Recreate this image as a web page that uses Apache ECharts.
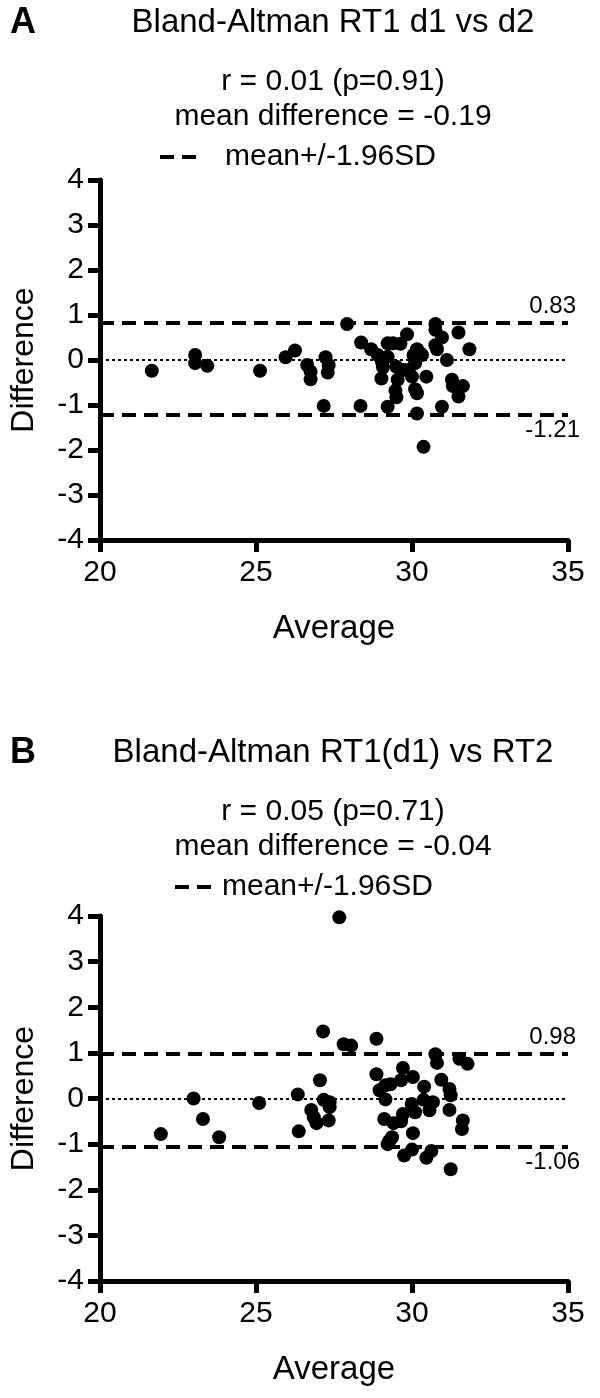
<!DOCTYPE html>
<html><head><meta charset="utf-8">
<script src="https://cdn.jsdelivr.net/npm/echarts@6/dist/echarts.min.js"></script>
<style>html,body{margin:0;padding:0;background:#fff}#c{width:600px;height:1398px}</style>
</head><body><div id="c"></div>
<script>
const FONT = '"Liberation Sans", Arial, sans-serif';

// axis ranges / ticks
const xMin = 20, xMax = 35, xStep = 5;
const yMin = -4, yMax = 4, yStep = 1;

// Panel A: Bland-Altman RT1 d1 vs d2
const avgA = [21.66,23.05,23.05,23.44,25.13,25.95,26.25,26.64,26.75,26.75,27.23,27.33,27.30,27.17,27.92,28.37,28.35,28.69,28.90,29.04,29.22,29.07,29.02,29.22,29.39,29.63,29.84,29.22,29.50,29.54,29.47,29.50,29.73,29.89,30.00,30.05,30.16,30.32,30.10,30.10,30.16,30.16,30.37,30.46,30.75,30.75,30.96,30.75,30.80,31.12,30.96,31.49,31.28,31.31,31.63,31.49,31.84,30.26];
const diffA = [-0.24,0.11,-0.07,-0.13,-0.24,0.06,0.21,-0.11,-0.26,-0.43,0.06,-0.11,-0.28,-1.02,0.80,0.39,-1.02,0.24,0.11,-0.05,0.07,-0.16,-0.41,0.37,0.37,0.36,0.57,-1.04,-0.15,-0.44,-0.68,-0.83,-0.22,-0.22,-0.37,0.11,0.24,0.11,-0.07,-0.65,-0.74,-1.19,-1.93,-0.37,0.80,0.67,0.50,0.33,0.24,0.00,-1.04,0.61,-0.44,-0.58,-0.58,-0.81,0.24,0.15];
const limitsA = [0.83, -1.21];
const textA = ['A', 'Bland-Altman RT1 d1 vs d2', 'r = 0.01 (p=0.91)', 'mean difference = -0.19'];

// Panel B: Bland-Altman RT1(d1) vs RT2
const avgB = [21.95,23.00,23.30,23.82,25.10,26.34,26.37,26.77,26.85,26.94,27.05,27.15,27.17,27.36,27.36,27.33,27.67,27.81,28.05,28.86,28.86,28.96,29.15,29.15,29.11,29.31,29.65,29.71,30.03,29.71,29.65,29.41,30.03,29.36,29.27,29.22,29.75,30.00,30.46,30.62,31.24,30.39,30.37,30.67,30.56,29.99,30.10,30.75,30.80,30.94,31.20,31.24,31.20,31.52,31.78,31.63,31.60];
const diffB = [-0.78,0.00,-0.45,-0.85,-0.10,0.09,-0.72,-0.25,-0.41,-0.54,0.40,1.47,-0.03,-0.08,-0.19,-0.48,3.97,1.19,1.16,1.31,0.53,0.18,0.29,-0.02,-0.45,0.31,0.40,0.67,0.47,-0.34,-0.50,-0.54,-0.76,-0.85,-0.93,-1.00,-1.25,-1.12,-1.30,-1.15,-1.55,0.26,-0.03,-0.08,-0.26,-0.12,-0.30,0.97,0.78,0.41,0.21,0.07,-0.25,0.87,0.76,-0.48,-0.67];
const limitsB = [0.98, -1.06];
const textB = ['B', 'Bland-Altman RT1(d1) vs RT2', 'r = 0.05 (p=0.71)', 'mean difference = -0.04'];

const legendName = 'mean+/-1.96SD';

const chart = echarts.init(document.getElementById('c'), null, {renderer: 'canvas'});

function xAxisFor(i) {
  return {
    type: 'value', gridIndex: i, min: xMin, max: xMax, interval: xStep,
    axisLine: {onZero: false, lineStyle: {color: '#000', width: 5}},
    axisTick: {length: 12, lineStyle: {color: '#000', width: 5}},
    splitLine: {show: false},
    axisLabel: {fontSize: 30, color: '#000', margin: 18, fontFamily: FONT},
    name: 'Average', nameLocation: 'middle', nameGap: 72,
    nameTextStyle: {fontSize: 33, color: '#000', fontFamily: FONT}
  };
}
function yAxisFor(i) {
  return {
    type: 'value', gridIndex: i, min: yMin, max: yMax, interval: yStep,
    axisLine: {onZero: false, lineStyle: {color: '#000', width: 5}},
    axisTick: {length: 12, lineStyle: {color: '#000', width: 5}},
    splitLine: {show: false},
    axisLabel: {fontSize: 30, color: '#000', margin: 16, fontFamily: FONT},
    name: 'Difference', nameLocation: 'middle', nameGap: 60,
    nameTextStyle: {fontSize: 32, color: '#000', fontFamily: FONT}
  };
}
function zip(a, b) { return a.map((v, k) => [v, b[k]]); }

function panelSeries(i, avg, diff, limits) {
  return [
    {
      type: 'scatter', xAxisIndex: i, yAxisIndex: i, data: zip(avg, diff),
      symbol: 'circle', symbolSize: 14, itemStyle: {color: '#000', opacity: 1}, silent: true,
      markLine: {
        silent: true, symbol: ['none', 'none'],
        lineStyle: {color: '#000', width: 2, type: [3, 3]},
        label: {show: false},
        data: [{yAxis: 0}]
      }
    },
    {
      type: 'line', name: legendName, xAxisIndex: i, yAxisIndex: i, data: [],
      itemStyle: {color: '#000'}, lineStyle: {color: '#000', width: 4, type: [14, 8]},
      markLine: {
        silent: true, symbol: ['none', 'none'],
        lineStyle: {color: '#000', width: 4, type: [14, 8]},
        data: [
          {yAxis: limits[0], label: {show: true, position: 'insideEndTop', formatter: String(limits[0]), fontSize: 24, color: '#000', fontFamily: FONT, distance: [-8, 4]}},
          {yAxis: limits[1], label: {show: true, position: 'insideEndBottom', formatter: String(limits[1]), fontSize: 24, color: '#000', fontFamily: FONT, distance: [-12, 4]}}
        ]
      }
    }
  ];
}

function headerGraphics(t, yTop) {
  return [
    {type: 'text', x: 10, y: yTop, style: {text: t[0], font: 'bold 36px ' + FONT, fill: '#000', verticalAlign: 'middle'}},
    {type: 'text', x: 333, y: yTop, style: {text: t[1], font: '33px ' + FONT, fill: '#000', align: 'center', verticalAlign: 'middle'}},
    {type: 'text', x: 333, y: yTop + 59, style: {text: t[2], font: '30px ' + FONT, fill: '#000', align: 'center', verticalAlign: 'middle'}},
    {type: 'text', x: 333, y: yTop + 94, style: {text: t[3], font: '30px ' + FONT, fill: '#000', align: 'center', verticalAlign: 'middle'}}
  ];
}

const legendIcon = 'path://M0,0H14V4H0Z M22,0H36V4H22Z';

const option = {
  backgroundColor: '#fff',
  animation: false,
  grid: [
    {left: 99, right: 32, top: 180, height: 360},
    {left: 99, right: 32, top: 916, height: 365}
  ],
  xAxis: [xAxisFor(0), xAxisFor(1)],
  yAxis: [yAxisFor(0), yAxisFor(1)],
  legend: [
    {data: [legendName], left: 155, top: 137, icon: legendIcon, itemWidth: 36, itemHeight: 4,
     selectedMode: false, textStyle: {fontSize: 30, color: '#000', fontFamily: FONT, padding: [0, 0, 0, 24]}},
    {data: [legendName], left: 170, top: 867, icon: legendIcon, itemWidth: 36, itemHeight: 4,
     selectedMode: false, textStyle: {fontSize: 30, color: '#000', fontFamily: FONT, padding: [0, 0, 0, 6]}}
  ],
  graphic: headerGraphics(textA, 23).concat(headerGraphics(textB, 753)),
  series: panelSeries(0, avgA, diffA, limitsA).concat(panelSeries(1, avgB, diffB, limitsB))
};
chart.setOption(option);
</script></body></html>
